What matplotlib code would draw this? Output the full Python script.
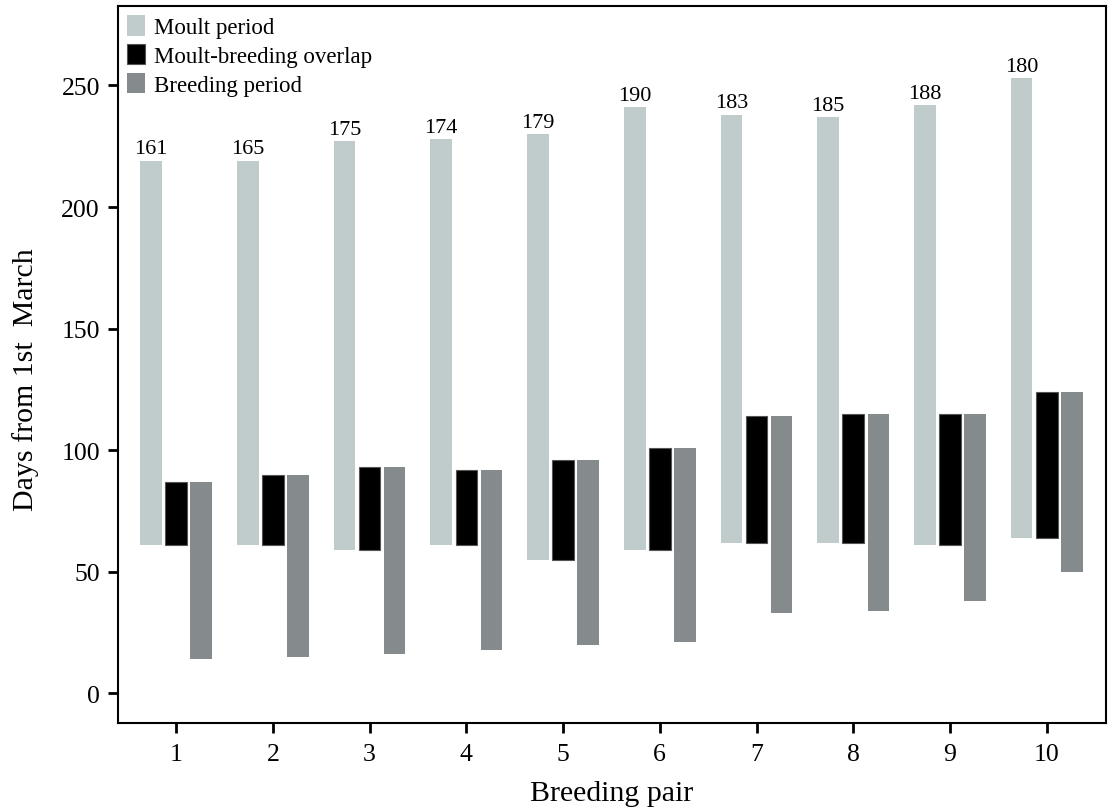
import matplotlib.pyplot as plt
import numpy as np

plt.rcParams['font.family'] = ['Liberation Serif', 'DejaVu Serif']

pairs = [1, 2, 3, 4, 5, 6, 7, 8, 9, 10]
moult_start = [61, 61, 59, 61, 55, 59, 62, 62, 61, 64]
moult_end = [219, 219, 227, 228, 230, 241, 238, 237, 242, 253]
breed_start = [14, 15, 16, 18, 20, 21, 33, 34, 38, 50]
breed_end = [87, 90, 93, 92, 96, 101, 114, 115, 115, 124]
moult_labels = ['161', '165', '175', '174', '179', '190', '183', '185', '188', '180']

moult_col = '#c0cbcc'
overlap_col = '#000000'
breed_col = '#858b8c'

x = np.array(pairs)
ms = np.array(moult_start)
me = np.array(moult_end)
bs = np.array(breed_start)
be = np.array(breed_end)
# overlap = where both periods run at once
ov_lo = np.maximum(ms, bs)
ov_hi = np.minimum(me, be)

w = 0.223
off = 0.259

fig = plt.figure(figsize=(11.2, 8.12), dpi=100)
ax = fig.add_axes([0.1054, 0.108, 0.8819, 0.8834])

ax.bar(x - off, me - ms, bottom=ms, width=w, color=moult_col, label='Moult period')
ax.bar(x, ov_hi - ov_lo, bottom=ov_lo, width=w, color=overlap_col,
       edgecolor='#555555', linewidth=0.8, label='Moult-breeding overlap')
ax.bar(x + off, be - bs, bottom=bs, width=w, color=breed_col, label='Breeding period')

for xi, top, lab in zip(x, me, moult_labels):
    ax.text(xi - off, top + 1.0, lab, ha='center', va='bottom', fontsize=16)

ax.set_xlim(0.40, 10.61)
ax.set_ylim(-12.3, 282.7)
ax.set_xticks(pairs)
ax.set_yticks([0, 50, 100, 150, 200, 250])
ax.tick_params(axis='both', direction='out', length=7, width=2, labelsize=18.5)
ax.tick_params(axis='x', pad=7)
ax.tick_params(axis='y', pad=6)
for s in ax.spines.values():
    s.set_linewidth(1.5)

ax.set_xlabel('Breeding pair', fontsize=21.5, labelpad=11)
ax.set_ylabel('Days from 1st  March', fontsize=21.5)
ax.yaxis.set_label_coords(-0.08, 0.481)

ax.legend(loc='upper left', frameon=False, fontsize=16.5, handlelength=0.79,
          handleheight=1.0, handletextpad=0.4, labelspacing=0.25,
          borderaxespad=0.2, borderpad=0.2)

fig.savefig('out.png', dpi=100)
